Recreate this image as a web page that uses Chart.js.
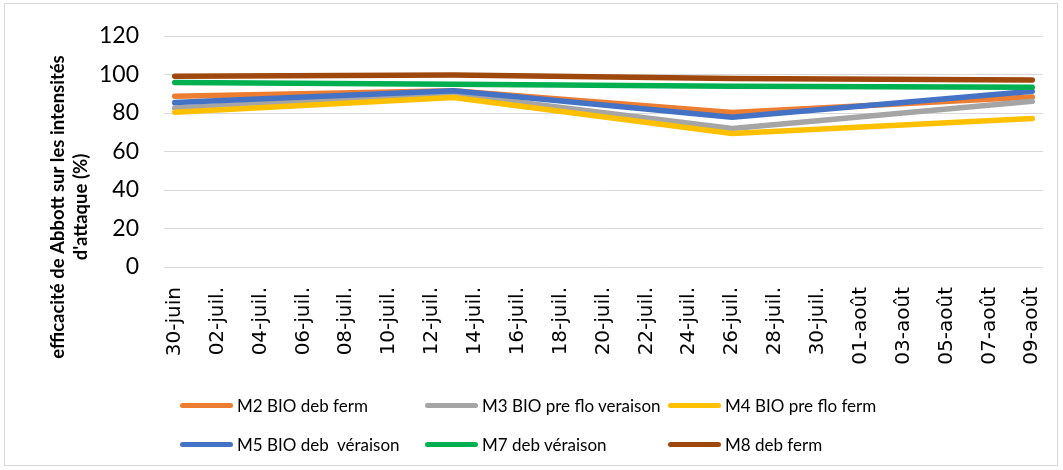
<!DOCTYPE html>
<html><head><meta charset="utf-8">
<script src="https://cdn.jsdelivr.net/npm/chart.js@4.4.1/dist/chart.umd.min.js"></script>
<style>
html,body{margin:0;padding:0;background:#fff;}
#wrap{position:relative;width:1063px;height:470px;overflow:hidden;}
#frame{position:absolute;left:4px;top:3px;width:1054px;height:463px;border:1px solid #d9d9d9;box-sizing:border-box;}
canvas{position:absolute;left:0;top:0;}
#legend{position:absolute;left:0;top:0;width:1063px;height:470px;font-family:Lato,sans-serif;font-size:17px;color:#000;}
.item{position:absolute;display:flex;align-items:center;height:22px;white-space:pre;}
.sw{display:inline-block;width:53px;height:5px;border-radius:3px;margin-right:4px;}
</style></head>
<body><div id="wrap"><div id="frame"></div><canvas id="c" width="1063" height="470"></canvas><div id="legend"></div></div>
<script>
const days = ['30-juin','01-juil.','02-juil.','03-juil.','04-juil.','05-juil.','06-juil.','07-juil.','08-juil.','09-juil.',
  '10-juil.','11-juil.','12-juil.','13-juil.','14-juil.','15-juil.','16-juil.','17-juil.','18-juil.','19-juil.',
  '20-juil.','21-juil.','22-juil.','23-juil.','24-juil.','25-juil.','26-juil.','27-juil.','28-juil.','29-juil.',
  '30-juil.','31-juil.','01-août','02-août','03-août','04-août','05-août','06-août','07-août','08-août','09-août'];
const sampleDays = ['30-juin','13-juil.','26-juil.','09-août'];
const seriesNames = ['M2 BIO deb ferm','M3 BIO pre flo veraison','M4 BIO pre flo ferm','M5 BIO deb  véraison','M7 deb véraison','M8 deb ferm'];
const m2 = [88.7, 91.5, 80.2, 88.3];
const m3 = [82.6, 89.8, 71.9, 86.1];
const m4 = [80.4, 88.0, 69.3, 77.1];
const m5 = [85.4, 91.6, 77.8, 91.3];
const m7 = [95.8, 94.9, 93.9, 93.4];
const m8 = [99.1, 99.8, 97.9, 97.2];
const seriesValues = [m2, m3, m4, m5, m7, m8];
const seriesColors = ['#ED7D31','#A5A5A5','#FFC000','#4472C4','#00B050','#9E480E'];
const yTitleLines = ['efficacité de Abbott sur les intensités', "d'attaque (%)"];

const datasets = seriesNames.map((name, i) => ({
  label: name,
  data: sampleDays.map((d, k) => ({x: d, y: seriesValues[i][k]})),
  borderColor: seriesColors[i],
  backgroundColor: seriesColors[i],
  borderWidth: 5.5,
  pointRadius: 0,
  borderCapStyle: 'round',
  borderJoinStyle: 'round',
  tension: 0,
  fill: false,
  order: seriesNames.length - 1 - i
}));

const yTitlePlugin = {
  id: 'yTitle',
  afterDraw(chart) {
    const ctx = chart.ctx;
    ctx.save();
    ctx.translate(58, 207);
    ctx.rotate(-Math.PI / 2);
    ctx.font = 'bold 18.5px Lato, sans-serif';
    ctx.fillStyle = '#000';
    ctx.textAlign = 'center';
    ctx.textBaseline = 'middle';
    yTitleLines.forEach((t, i) => ctx.fillText(t, 0, i * 23));
    ctx.restore();
  }
};

const chart = new Chart(document.getElementById('c'), {
  type: 'line',
  data: { labels: days, datasets },
  options: {
    responsive: false,
    animation: false,
    layout: { padding: { left: 0, right: 20, top: 36, bottom: 0 } },
    plugins: { legend: { display: false }, tooltip: { enabled: false } },
    scales: {
      x: {
        type: 'category',
        offset: true,
        grid: { display: false, drawTicks: false },
        border: { display: false },
        ticks: {
          autoSkip: false, maxRotation: 90, minRotation: 90, padding: 20,
          color: '#000',
          font: { family: 'DejaVu Sans', size: 20 },
          callback: (v, i) => (i % 2 === 0 ? days[i] : '')
        },
        afterFit: (s) => { s.height = 470 - 267; s.paddingLeft = 0; s.paddingRight = 0; }
      },
      y: {
        min: 0, max: 120,
        ticks: { stepSize: 20, padding: 25, color: '#000', font: { family: 'Lato, sans-serif', size: 23 } },
        grid: { color: '#d9d9d9', drawTicks: false, lineWidth: 1 },
        border: { display: false },
        afterFit: (s) => { s.width = 164; s.paddingTop = 0; s.paddingBottom = 0; }
      }
    }
  },
  plugins: [yTitlePlugin]
});

const legendPos = [[180, 405], [425, 405], [668, 405], [180, 444], [425, 444], [668, 444]];
const legendEl = document.getElementById('legend');
chart.data.datasets.forEach((ds, i) => {
  const it = document.createElement('div');
  it.className = 'item';
  it.style.left = legendPos[i][0] + 'px';
  it.style.top = (legendPos[i][1] - 11) + 'px';
  const sw = document.createElement('span');
  sw.className = 'sw';
  sw.style.background = ds.borderColor;
  const tx = document.createElement('span');
  tx.textContent = ds.label;
  it.appendChild(sw); it.appendChild(tx);
  legendEl.appendChild(it);
});
</script>
</body></html>
